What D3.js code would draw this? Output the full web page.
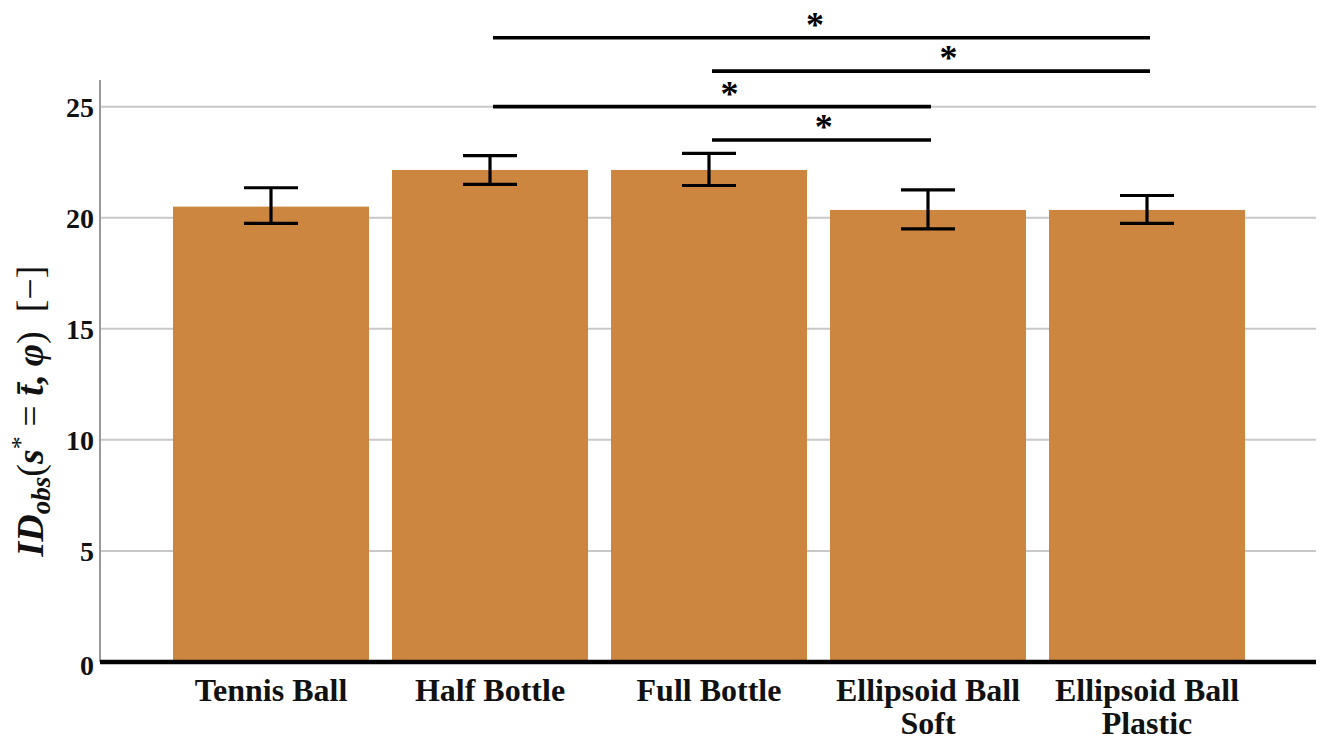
<!DOCTYPE html>
<html>
<head>
<meta charset="utf-8">
<script src="https://cdn.jsdelivr.net/npm/d3@7"></script>
<style>
  html, body { margin: 0; padding: 0; background: #fff; }
  svg { display: block; }
</style>
</head>
<body>
<svg id="chart" width="1322" height="742"></svg>
<script>
// ---- data ----
const categories = [["Tennis Ball"], ["Half Bottle"], ["Full Bottle"], ["Ellipsoid Ball", "Soft"], ["Ellipsoid Ball", "Plastic"]];
const catKeys = ["Tennis Ball", "Half Bottle", "Full Bottle", "Ellipsoid Ball Soft", "Ellipsoid Ball Plastic"];
const means = [20.5, 22.15, 22.15, 20.35, 20.35];
const errUpper = [21.35, 22.8, 22.9, 21.25, 21.0];
const errLower = [19.75, 21.5, 21.45, 19.5, 19.75];
const yTicks = [0, 5, 10, 15, 20, 25];
// significance comparisons: from, to, height in data units, asterisk position along line
const sigFrom = ["Half Bottle", "Full Bottle", "Half Bottle", "Full Bottle"];
const sigTo = ["Ellipsoid Ball Plastic", "Ellipsoid Ball Plastic", "Ellipsoid Ball Soft", "Ellipsoid Ball Soft"];
const sigLevel = [28.1, 26.6, 25.0, 23.5];
const sigStarFrac = [0.49, 0.54, 0.54, 0.51];
const sigLabel = ["*", "*", "*", "*"];

// ---- layout ----
const svg = d3.select("#chart");
const plotLeft = 100, plotRight = 1316, plotTop = 80, plotBottom = 662;

const x = d3.scaleBand()
  .domain(catKeys)
  .range([161.5, 1256.5])
  .paddingInner(0.105)
  .paddingOuter(0.0525);

const y = d3.scaleLinear()
  .domain([0, 26.2])
  .range([plotBottom, plotTop]);

const serif = "'Liberation Serif', 'Times New Roman', serif";

// gridlines
svg.append("g").selectAll("line")
  .data(yTicks.filter(d => d > 0))
  .join("line")
  .attr("x1", plotLeft).attr("x2", plotRight)
  .attr("y1", d => y(d)).attr("y2", d => y(d))
  .attr("stroke", "#c8c8c8").attr("stroke-width", 2);

// y axis line
svg.append("line")
  .attr("x1", plotLeft).attr("x2", plotLeft)
  .attr("y1", y(0)).attr("y2", plotTop)
  .attr("stroke", "#9a9a9a").attr("stroke-width", 2);

// y tick labels
svg.append("g").selectAll("text")
  .data(yTicks)
  .join("text")
  .attr("x", 94)
  .attr("y", d => y(d) + (d === 0 ? 3 : 1))
  .attr("text-anchor", "end")
  .attr("dominant-baseline", "central")
  .attr("font-family", serif)
  .attr("font-weight", "bold")
  .attr("font-size", 28)
  .attr("fill", "#111")
  .text(d => d);

// bars
svg.append("g").selectAll("rect")
  .data(catKeys)
  .join("rect")
  .attr("x", d => x(d))
  .attr("width", x.bandwidth())
  .attr("y", (d, i) => y(means[i]))
  .attr("height", (d, i) => y(0) - y(means[i]))
  .attr("fill", "#cc8640");

// baseline
svg.append("line")
  .attr("x1", plotLeft).attr("x2", plotRight)
  .attr("y1", y(0)).attr("y2", y(0))
  .attr("stroke", "#000").attr("stroke-width", 4.5);

// error bars
const capW = 54;
const eb = svg.append("g").attr("stroke", "#000").attr("stroke-width", 3.2);
catKeys.forEach((k, i) => {
  const cx = x(k) + x.bandwidth() / 2;
  eb.append("line").attr("x1", cx).attr("x2", cx).attr("y1", y(errUpper[i])).attr("y2", y(errLower[i]));
  eb.append("line").attr("x1", cx - capW / 2).attr("x2", cx + capW / 2).attr("y1", y(errUpper[i])).attr("y2", y(errUpper[i]));
  eb.append("line").attr("x1", cx - capW / 2).attr("x2", cx + capW / 2).attr("y1", y(errLower[i])).attr("y2", y(errLower[i]));
});

// significance lines
const sg = svg.append("g");
sigFrom.forEach((f, i) => {
  const x1 = x(f) + x.bandwidth() / 2 + 3;
  const x2 = x(sigTo[i]) + x.bandwidth() / 2 + 3;
  const yy = y(sigLevel[i]);
  sg.append("line").attr("x1", x1).attr("x2", x2).attr("y1", yy).attr("y2", yy)
    .attr("stroke", "#000").attr("stroke-width", 3.6);
  sg.append("text")
    .attr("x", x1 + (x2 - x1) * sigStarFrac[i])
    .attr("y", yy - 1)
    .attr("text-anchor", "middle")
    .attr("font-family", serif)
    .attr("font-weight", "bold")
    .attr("font-size", 36)
    .text(sigLabel[i]);
});

// category labels
const xl = svg.append("g");
catKeys.forEach((k, i) => {
  const cx = x(k) + x.bandwidth() / 2;
  categories[i].forEach((line, j) => {
    xl.append("text")
      .attr("x", cx)
      .attr("y", 701 + j * 33)
      .attr("text-anchor", "middle")
      .attr("font-family", serif)
      .attr("font-weight", "bold")
      .attr("font-size", 32)
      .attr("fill", "#111")
      .text(line);
  });
});

// y axis label
const yl = svg.append("text")
  .attr("transform", "translate(43, 411) rotate(-90)")
  .attr("text-anchor", "middle")
  .attr("font-family", serif)
  .attr("font-size", 38)
  .attr("fill", "#111");
yl.append("tspan").attr("font-weight", "bold").attr("font-style", "italic").text("ID");
yl.append("tspan").attr("font-weight", "bold").attr("font-style", "italic").attr("font-size", 27).attr("dy", 7).text("obs");
yl.append("tspan").attr("dy", -7).text("(");
yl.append("tspan").attr("font-weight", "bold").attr("font-style", "italic").text("s");
yl.append("tspan").attr("font-size", 26).attr("dy", -14).text("*");
yl.append("tspan").attr("dy", 14).text(" = ");
yl.append("tspan").attr("font-weight", "bold").attr("font-style", "italic").text("t\u0304");
yl.append("tspan").attr("font-weight", "bold").text(", ");
yl.append("tspan").attr("font-weight", "bold").attr("font-style", "italic").text("\u03C6");
yl.append("tspan").text(")\u2002[\u2212]");
</script>
</body>
</html>
